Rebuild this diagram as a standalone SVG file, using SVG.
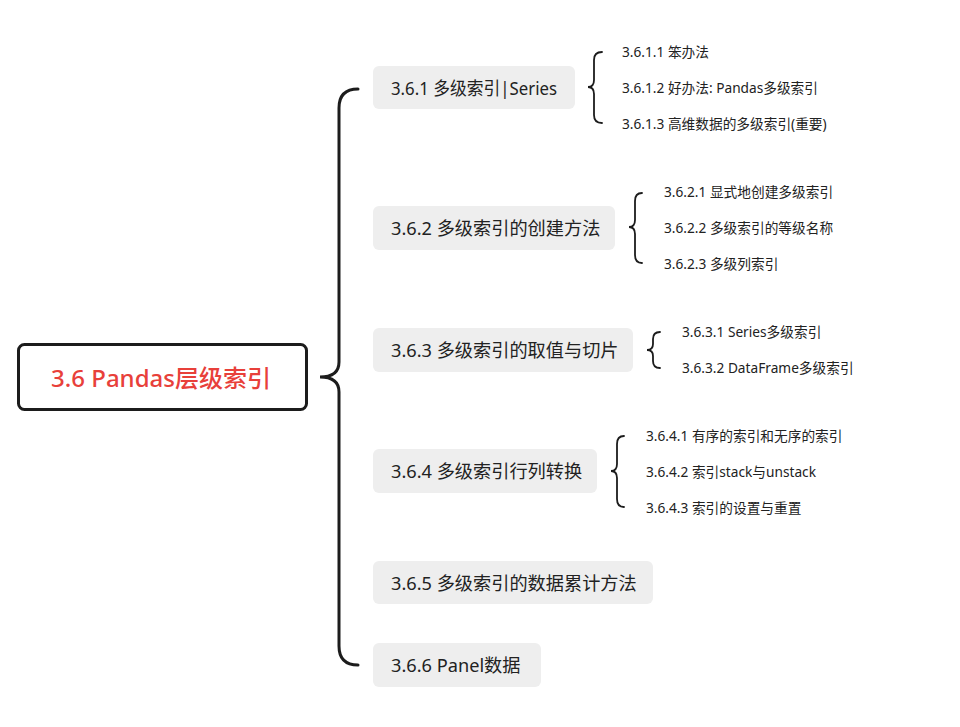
<svg xmlns="http://www.w3.org/2000/svg" width="960" height="727" viewBox="0 0 960 727">
<style>
.bg{fill:#ffffff}
.root{fill:#ffffff;stroke:#1c1c1c;stroke-width:3}
.rootT{font-family:"Noto Sans","Noto Sans CJK SC",sans-serif;font-size:24px;font-weight:500;fill:#e8403a}
.box{fill:#eeeeee}
.t1{font-family:"Noto Sans","Noto Sans CJK SC",sans-serif;font-size:18.2px;fill:#222222}
.t2{font-family:"Noto Sans","Noto Sans CJK SC",sans-serif;font-size:13.7px;fill:#222222}
.br{fill:none;stroke:#1c1c1c;stroke-width:3;stroke-linecap:round}
.sb{fill:none;stroke:#1c1c1c;stroke-width:1.8;stroke-linecap:round}
</style>
<rect class="bg" width="960" height="727"/>
<g id="connectors">
<path class="br" d="M358,89 Q339,89 339,108 L339,362 Q339,377 320,377 Q339,377 339,392 L339,646 Q339,665 358,665"/>
<path class="sb" d="M602,52 Q594,52 594,60 L594,80 Q594,87 588,87 Q594,87 594,94 L594,115 Q594,123 602,123"/>
<path class="sb" d="M642,193 Q635,193 635,201 L635,220 Q635,227 629,227 Q635,227 635,234 L635,255 Q635,263 642,263"/>
<path class="sb" d="M660,332 Q653,332 653,339 L653,344 Q653,350 647,350 Q653,350 653,356 L653,361 Q653,368 660,368"/>
<path class="sb" d="M624,436 Q617,436 617,444 L617,464 Q617,471 611,471 Q617,471 617,478 L617,499 Q617,507 624,507"/>
</g>
<g id="root">
<rect class="root" x="18.5" y="344.5" width="288" height="65" rx="6"/>
<text class="rootT" x="161" y="377" text-anchor="middle" dominant-baseline="central">3.6 Pandas层级索引</text>
</g>
<g id="n361">
<rect class="box" x="373" y="66" width="202" height="43" rx="6"/>
<text class="t1" x="391" y="87.5" dominant-baseline="central" textLength="166" lengthAdjust="spacingAndGlyphs">3.6.1 多级索引|Series</text>
</g>
<g id="n362">
<rect class="box" x="373" y="206" width="242" height="44" rx="6"/>
<text class="t1" x="391" y="228" dominant-baseline="central">3.6.2 多级索引的创建方法</text>
</g>
<g id="n363">
<rect class="box" x="373" y="328" width="260" height="44" rx="6"/>
<text class="t1" x="391" y="350" dominant-baseline="central">3.6.3 多级索引的取值与切片</text>
</g>
<g id="n364">
<rect class="box" x="373" y="449" width="224" height="44" rx="6"/>
<text class="t1" x="391" y="471" dominant-baseline="central">3.6.4 多级索引行列转换</text>
</g>
<g id="n365">
<rect class="box" x="373" y="561" width="280" height="43" rx="6"/>
<text class="t1" x="391" y="582.5" dominant-baseline="central">3.6.5 多级索引的数据累计方法</text>
</g>
<g id="n366">
<rect class="box" x="373" y="643" width="168" height="44" rx="6"/>
<text class="t1" x="391" y="665" dominant-baseline="central">3.6.6 Panel数据</text>
</g>
<g id="n3611"><text class="t2" x="622" y="51" dominant-baseline="central">3.6.1.1 笨办法</text></g>
<g id="n3612"><text class="t2" x="622" y="87" dominant-baseline="central">3.6.1.2 好办法: Pandas多级索引</text></g>
<g id="n3613"><text class="t2" x="622" y="123" dominant-baseline="central">3.6.1.3 高维数据的多级索引(重要)</text></g>
<g id="n3621"><text class="t2" x="664" y="191" dominant-baseline="central">3.6.2.1 显式地创建多级索引</text></g>
<g id="n3622"><text class="t2" x="664" y="227" dominant-baseline="central">3.6.2.2 多级索引的等级名称</text></g>
<g id="n3623"><text class="t2" x="664" y="263" dominant-baseline="central">3.6.2.3 多级列索引</text></g>
<g id="n3631"><text class="t2" x="682" y="331" dominant-baseline="central">3.6.3.1 Series多级索引</text></g>
<g id="n3632"><text class="t2" x="682" y="367" dominant-baseline="central">3.6.3.2 DataFrame多级索引</text></g>
<g id="n3641"><text class="t2" x="646" y="435" dominant-baseline="central">3.6.4.1 有序的索引和无序的索引</text></g>
<g id="n3642"><text class="t2" x="646" y="471" dominant-baseline="central">3.6.4.2 索引stack与unstack</text></g>
<g id="n3643"><text class="t2" x="646" y="507" dominant-baseline="central">3.6.4.3 索引的设置与重置</text></g>
</svg>
